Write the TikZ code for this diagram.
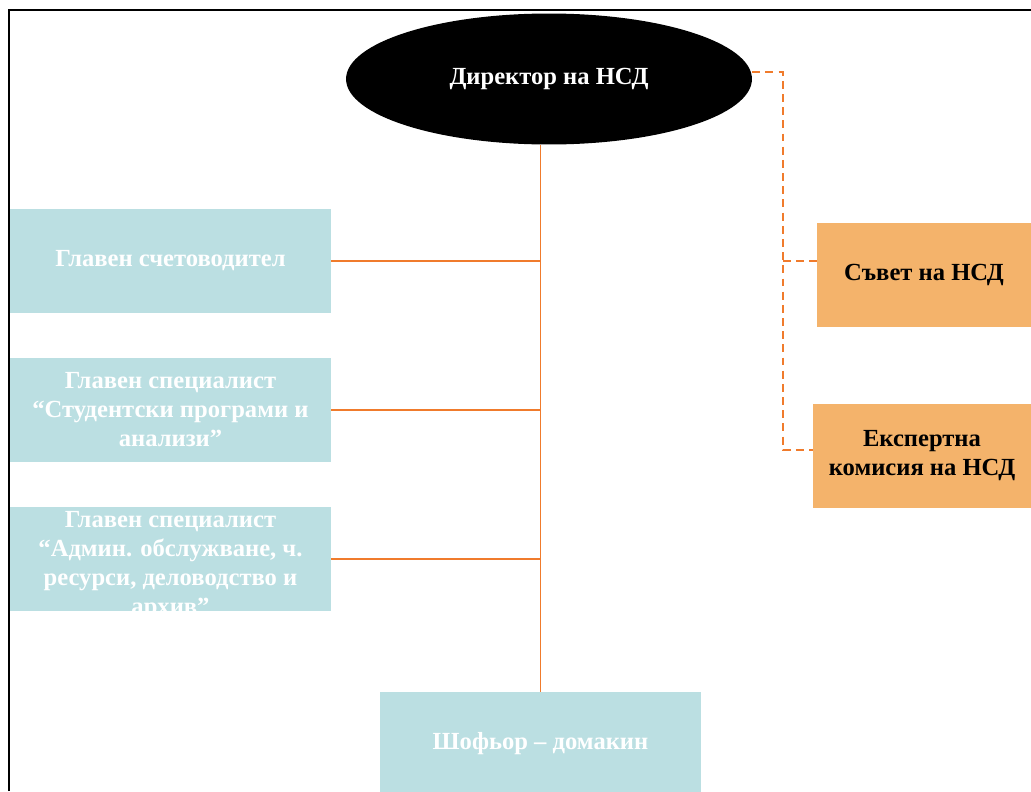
\documentclass[tikz,border=0pt]{standalone}
\usepackage{fontspec}
\setmainfont{Liberation Serif}
\usetikzlibrary{shapes.geometric, positioning}
\definecolor{boxblue}{HTML}{BBDFE2}
\definecolor{boxorange}{HTML}{F4B36B}
\definecolor{linkorange}{HTML}{F07B2C}

\begin{document}
\begin{tikzpicture}[x=0.02cm, y=-0.02cm,
    unit/.style={rectangle, fill=boxblue, text=white, align=center, inner sep=0pt,
        font=\bfseries\fontsize{14}{16.5}\selectfont, minimum width=6.42cm, minimum height=2.08cm},
    council/.style={rectangle, fill=boxorange, text=black, align=center, inner sep=0pt,
        font=\bfseries\fontsize{14}{16.5}\selectfont, minimum height=2.08cm},
    link/.style={draw=linkorange, line width=0.85pt},
    dlink/.style={draw=linkorange, line width=1.1pt, dash pattern=on 4.5pt off 3pt}]
    \useasboundingbox (0,0) rectangle (1031,791);

    % frame
    \draw[line width=1.1pt] (9,791) -- (9,10) -- (1031,10);

    \node[ellipse, fill=black, text=white, minimum width=8.12cm, minimum height=2.62cm,
        inner sep=0pt, font=\bfseries\fontsize{14}{16.5}\selectfont] (dir) at (549,79) {Директор на НСД};

    \node[unit] (acc) at (170.5,261) {Главен счетоводител};
    \node[unit] (stud) at (170.5,410) {Главен специалист\\“Студентски програми и\\анализи”};
    \node[unit] (adm) at (170.5,559) {\smash{\raisebox{-7pt}{\begin{tabular}{@{}c@{}}Главен специалист\\“Админ. обслужване, ч.\\ресурси, деловодство и\\архив”\end{tabular}}}};
    \node[unit] (drv) at (540.5,744) {Шофьор – домакин};

    \node[council, minimum width=4.28cm] (cnl) at (924,275) {Съвет на НСД};
    \node[council, minimum width=4.36cm] (exp) at (922,456) {Експертна\\комисия на НСД};

    % solid links
    \draw[link] (drv.north |- dir.south) -- (drv.north);
    \foreach \n in {acc, stud, adm} {
        \draw[link] (\n.east) -- (\n.east -| drv.north);
    }

    % dashed links
    \coordinate (side) at (783,72);
    \coordinate (cnljoin) at (783,261);
    \coordinate (expjoin) at (783,450);
    \draw[dlink] (dir.east |- side) -- (side) -- (expjoin) -- (expjoin -| exp.west);
    \draw[dlink] (cnljoin) -- (cnljoin -| cnl.west);
\end{tikzpicture}
\end{document}
